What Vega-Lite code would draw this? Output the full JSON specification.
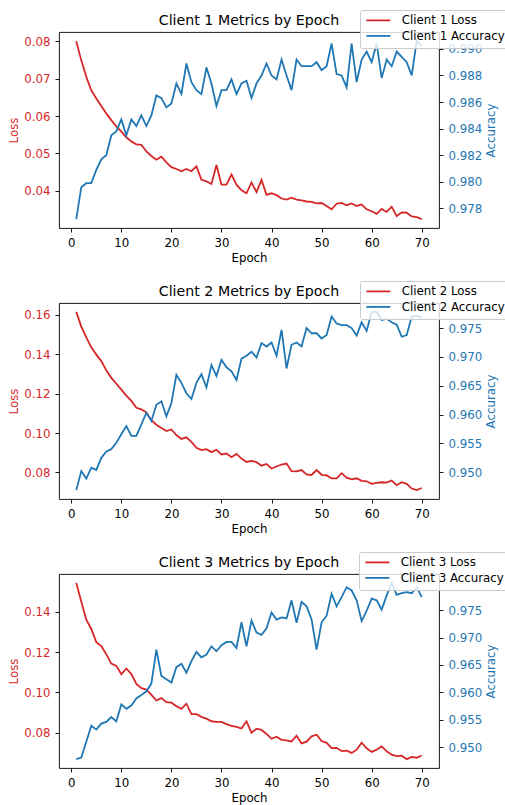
{
  "$schema": "https://vega.github.io/schema/vega-lite/v6.json",
  "padding": {"left": 8, "top": 9, "right": 0, "bottom": 0},
  "background": "white",
  "config": {
    "font": "DejaVu Sans",
    "view": {"stroke": "#000", "strokeWidth": 0.9},
    "axis": {"grid": false, "domain": false, "tickColor": "#000", "tickSize": 4, "tickWidth": 0.9, "labelPadding": 5, "labelFontSize": 11.8, "labelFont": "DejaVu Sans", "labelColor": "#000", "titleFont": "DejaVu Sans", "titleFontSize": 11.8, "titleFontWeight": "normal", "titleColor": "#000", "titlePadding": 4, "labelFlush": false, "labelOverlap": false},
    "title": {"font": "DejaVu Sans", "fontSize": 14.2, "fontWeight": "normal", "color": "#000", "anchor": "middle", "frame": "group", "offset": -19},
    "legend": {"orient": "none", "labelFont": "DejaVu Sans", "labelFontSize": 11.8, "labelColor": "#000", "symbolType": "M-3,0H3", "symbolSize": 64, "symbolStrokeWidth": 1.8, "symbolOffset": 8, "labelOffset": 17.5, "rowPadding": 2.5, "padding": 4.5, "fillColor": "rgba(255,255,255,0.8)", "strokeColor": "#cccccc", "cornerRadius": 2}
  },
  "datasets": {
    "metrics": [
      {"client":1,"epoch":1,"loss":0.0800,"accuracy":0.9772},
      {"client":1,"epoch":2,"loss":0.0749,"accuracy":0.9796},
      {"client":1,"epoch":3,"loss":0.0705,"accuracy":0.9799},
      {"client":1,"epoch":4,"loss":0.0669,"accuracy":0.9799},
      {"client":1,"epoch":5,"loss":0.0647,"accuracy":0.9809},
      {"client":1,"epoch":6,"loss":0.0627,"accuracy":0.9817},
      {"client":1,"epoch":7,"loss":0.0607,"accuracy":0.9820},
      {"client":1,"epoch":8,"loss":0.0589,"accuracy":0.9835},
      {"client":1,"epoch":9,"loss":0.0572,"accuracy":0.9838},
      {"client":1,"epoch":10,"loss":0.0558,"accuracy":0.9847},
      {"client":1,"epoch":11,"loss":0.0543,"accuracy":0.9835},
      {"client":1,"epoch":12,"loss":0.0532,"accuracy":0.9847},
      {"client":1,"epoch":13,"loss":0.0524,"accuracy":0.9842},
      {"client":1,"epoch":14,"loss":0.0523,"accuracy":0.9850},
      {"client":1,"epoch":15,"loss":0.0505,"accuracy":0.9842},
      {"client":1,"epoch":16,"loss":0.0493,"accuracy":0.9850},
      {"client":1,"epoch":17,"loss":0.0483,"accuracy":0.9865},
      {"client":1,"epoch":18,"loss":0.0491,"accuracy":0.9863},
      {"client":1,"epoch":19,"loss":0.0476,"accuracy":0.9856},
      {"client":1,"epoch":20,"loss":0.0463,"accuracy":0.9859},
      {"client":1,"epoch":21,"loss":0.0458,"accuracy":0.9874},
      {"client":1,"epoch":22,"loss":0.0452,"accuracy":0.9866},
      {"client":1,"epoch":23,"loss":0.0458,"accuracy":0.9889},
      {"client":1,"epoch":24,"loss":0.0452,"accuracy":0.9875},
      {"client":1,"epoch":25,"loss":0.0465,"accuracy":0.9869},
      {"client":1,"epoch":26,"loss":0.0429,"accuracy":0.9866},
      {"client":1,"epoch":27,"loss":0.0425,"accuracy":0.9886},
      {"client":1,"epoch":28,"loss":0.0418,"accuracy":0.9874},
      {"client":1,"epoch":29,"loss":0.0469,"accuracy":0.9857},
      {"client":1,"epoch":30,"loss":0.0416,"accuracy":0.9869},
      {"client":1,"epoch":31,"loss":0.0416,"accuracy":0.9869},
      {"client":1,"epoch":32,"loss":0.0443,"accuracy":0.9877},
      {"client":1,"epoch":33,"loss":0.0416,"accuracy":0.9866},
      {"client":1,"epoch":34,"loss":0.0401,"accuracy":0.9874},
      {"client":1,"epoch":35,"loss":0.0393,"accuracy":0.9876},
      {"client":1,"epoch":36,"loss":0.0422,"accuracy":0.9863},
      {"client":1,"epoch":37,"loss":0.0396,"accuracy":0.9874},
      {"client":1,"epoch":38,"loss":0.0429,"accuracy":0.9880},
      {"client":1,"epoch":39,"loss":0.0389,"accuracy":0.9889},
      {"client":1,"epoch":40,"loss":0.0393,"accuracy":0.9880},
      {"client":1,"epoch":41,"loss":0.0388,"accuracy":0.9877},
      {"client":1,"epoch":42,"loss":0.0379,"accuracy":0.9892},
      {"client":1,"epoch":43,"loss":0.0376,"accuracy":0.9880},
      {"client":1,"epoch":44,"loss":0.0381,"accuracy":0.9869},
      {"client":1,"epoch":45,"loss":0.0376,"accuracy":0.9892},
      {"client":1,"epoch":46,"loss":0.0374,"accuracy":0.9887},
      {"client":1,"epoch":47,"loss":0.0371,"accuracy":0.9887},
      {"client":1,"epoch":48,"loss":0.0370,"accuracy":0.9887},
      {"client":1,"epoch":49,"loss":0.0366,"accuracy":0.9890},
      {"client":1,"epoch":50,"loss":0.0367,"accuracy":0.9884},
      {"client":1,"epoch":51,"loss":0.0359,"accuracy":0.9887},
      {"client":1,"epoch":52,"loss":0.0350,"accuracy":0.9904},
      {"client":1,"epoch":53,"loss":0.0365,"accuracy":0.9881},
      {"client":1,"epoch":54,"loss":0.0367,"accuracy":0.9880},
      {"client":1,"epoch":55,"loss":0.0361,"accuracy":0.9871},
      {"client":1,"epoch":56,"loss":0.0366,"accuracy":0.9904},
      {"client":1,"epoch":57,"loss":0.0359,"accuracy":0.9875},
      {"client":1,"epoch":58,"loss":0.0363,"accuracy":0.9892},
      {"client":1,"epoch":59,"loss":0.0350,"accuracy":0.9898},
      {"client":1,"epoch":60,"loss":0.0345,"accuracy":0.9890},
      {"client":1,"epoch":61,"loss":0.0338,"accuracy":0.9904},
      {"client":1,"epoch":62,"loss":0.0351,"accuracy":0.9878},
      {"client":1,"epoch":63,"loss":0.0343,"accuracy":0.9892},
      {"client":1,"epoch":64,"loss":0.0357,"accuracy":0.9887},
      {"client":1,"epoch":65,"loss":0.0332,"accuracy":0.9898},
      {"client":1,"epoch":66,"loss":0.0342,"accuracy":0.9894},
      {"client":1,"epoch":67,"loss":0.0341,"accuracy":0.9890},
      {"client":1,"epoch":68,"loss":0.0331,"accuracy":0.9880},
      {"client":1,"epoch":69,"loss":0.0329,"accuracy":0.9906},
      {"client":1,"epoch":70,"loss":0.0324,"accuracy":0.9902},
      {"client":2,"epoch":1,"loss":0.1615,"accuracy":0.9469},
      {"client":2,"epoch":2,"loss":0.1540,"accuracy":0.9502},
      {"client":2,"epoch":3,"loss":0.1485,"accuracy":0.9489},
      {"client":2,"epoch":4,"loss":0.1435,"accuracy":0.9508},
      {"client":2,"epoch":5,"loss":0.1398,"accuracy":0.9504},
      {"client":2,"epoch":6,"loss":0.1365,"accuracy":0.9525},
      {"client":2,"epoch":7,"loss":0.1318,"accuracy":0.9536},
      {"client":2,"epoch":8,"loss":0.1280,"accuracy":0.9540},
      {"client":2,"epoch":9,"loss":0.1250,"accuracy":0.9551},
      {"client":2,"epoch":10,"loss":0.1220,"accuracy":0.9566},
      {"client":2,"epoch":11,"loss":0.1190,"accuracy":0.9580},
      {"client":2,"epoch":12,"loss":0.1163,"accuracy":0.9563},
      {"client":2,"epoch":13,"loss":0.1128,"accuracy":0.9563},
      {"client":2,"epoch":14,"loss":0.1120,"accuracy":0.9583},
      {"client":2,"epoch":15,"loss":0.1105,"accuracy":0.9603},
      {"client":2,"epoch":16,"loss":0.1065,"accuracy":0.9589},
      {"client":2,"epoch":17,"loss":0.1042,"accuracy":0.9617},
      {"client":2,"epoch":18,"loss":0.1025,"accuracy":0.9623},
      {"client":2,"epoch":19,"loss":0.1010,"accuracy":0.9597},
      {"client":2,"epoch":20,"loss":0.1018,"accuracy":0.9620},
      {"client":2,"epoch":21,"loss":0.0990,"accuracy":0.9669},
      {"client":2,"epoch":22,"loss":0.0970,"accuracy":0.9655},
      {"client":2,"epoch":23,"loss":0.0978,"accuracy":0.9637},
      {"client":2,"epoch":24,"loss":0.0955,"accuracy":0.9627},
      {"client":2,"epoch":25,"loss":0.0925,"accuracy":0.9655},
      {"client":2,"epoch":26,"loss":0.0913,"accuracy":0.9670},
      {"client":2,"epoch":27,"loss":0.0918,"accuracy":0.9647},
      {"client":2,"epoch":28,"loss":0.0903,"accuracy":0.9686},
      {"client":2,"epoch":29,"loss":0.0915,"accuracy":0.9667},
      {"client":2,"epoch":30,"loss":0.0891,"accuracy":0.9695},
      {"client":2,"epoch":31,"loss":0.0896,"accuracy":0.9682},
      {"client":2,"epoch":32,"loss":0.0877,"accuracy":0.9675},
      {"client":2,"epoch":33,"loss":0.0894,"accuracy":0.9660},
      {"client":2,"epoch":34,"loss":0.0870,"accuracy":0.9697},
      {"client":2,"epoch":35,"loss":0.0853,"accuracy":0.9702},
      {"client":2,"epoch":36,"loss":0.0858,"accuracy":0.9709},
      {"client":2,"epoch":37,"loss":0.0852,"accuracy":0.9699},
      {"client":2,"epoch":38,"loss":0.0834,"accuracy":0.9724},
      {"client":2,"epoch":39,"loss":0.0843,"accuracy":0.9718},
      {"client":2,"epoch":40,"loss":0.0820,"accuracy":0.9725},
      {"client":2,"epoch":41,"loss":0.0830,"accuracy":0.9702},
      {"client":2,"epoch":42,"loss":0.0840,"accuracy":0.9747},
      {"client":2,"epoch":43,"loss":0.0845,"accuracy":0.9680},
      {"client":2,"epoch":44,"loss":0.0806,"accuracy":0.9721},
      {"client":2,"epoch":45,"loss":0.0805,"accuracy":0.9725},
      {"client":2,"epoch":46,"loss":0.0812,"accuracy":0.9718},
      {"client":2,"epoch":47,"loss":0.0790,"accuracy":0.9750},
      {"client":2,"epoch":48,"loss":0.0787,"accuracy":0.9741},
      {"client":2,"epoch":49,"loss":0.0812,"accuracy":0.9741},
      {"client":2,"epoch":50,"loss":0.0788,"accuracy":0.9732},
      {"client":2,"epoch":51,"loss":0.0785,"accuracy":0.9738},
      {"client":2,"epoch":52,"loss":0.0770,"accuracy":0.9770},
      {"client":2,"epoch":53,"loss":0.0770,"accuracy":0.9758},
      {"client":2,"epoch":54,"loss":0.0796,"accuracy":0.9755},
      {"client":2,"epoch":55,"loss":0.0773,"accuracy":0.9755},
      {"client":2,"epoch":56,"loss":0.0765,"accuracy":0.9750},
      {"client":2,"epoch":57,"loss":0.0770,"accuracy":0.9737},
      {"client":2,"epoch":58,"loss":0.0757,"accuracy":0.9760},
      {"client":2,"epoch":59,"loss":0.0755,"accuracy":0.9745},
      {"client":2,"epoch":60,"loss":0.0742,"accuracy":0.9778},
      {"client":2,"epoch":61,"loss":0.0747,"accuracy":0.9778},
      {"client":2,"epoch":62,"loss":0.0750,"accuracy":0.9764},
      {"client":2,"epoch":63,"loss":0.0748,"accuracy":0.9766},
      {"client":2,"epoch":64,"loss":0.0759,"accuracy":0.9760},
      {"client":2,"epoch":65,"loss":0.0735,"accuracy":0.9756},
      {"client":2,"epoch":66,"loss":0.0750,"accuracy":0.9735},
      {"client":2,"epoch":67,"loss":0.0742,"accuracy":0.9738},
      {"client":2,"epoch":68,"loss":0.0718,"accuracy":0.9770},
      {"client":2,"epoch":69,"loss":0.0710,"accuracy":0.9771},
      {"client":2,"epoch":70,"loss":0.0721,"accuracy":0.9768},
      {"client":3,"epoch":1,"loss":0.1544,"accuracy":0.9478},
      {"client":3,"epoch":2,"loss":0.1451,"accuracy":0.9481},
      {"client":3,"epoch":3,"loss":0.1361,"accuracy":0.9510},
      {"client":3,"epoch":4,"loss":0.1315,"accuracy":0.9539},
      {"client":3,"epoch":5,"loss":0.1250,"accuracy":0.9532},
      {"client":3,"epoch":6,"loss":0.1230,"accuracy":0.9543},
      {"client":3,"epoch":7,"loss":0.1189,"accuracy":0.9546},
      {"client":3,"epoch":8,"loss":0.1143,"accuracy":0.9555},
      {"client":3,"epoch":9,"loss":0.1132,"accuracy":0.9547},
      {"client":3,"epoch":10,"loss":0.1091,"accuracy":0.9578},
      {"client":3,"epoch":11,"loss":0.1119,"accuracy":0.9570},
      {"client":3,"epoch":12,"loss":0.1091,"accuracy":0.9576},
      {"client":3,"epoch":13,"loss":0.1042,"accuracy":0.9589},
      {"client":3,"epoch":14,"loss":0.1021,"accuracy":0.9595},
      {"client":3,"epoch":15,"loss":0.1014,"accuracy":0.9602},
      {"client":3,"epoch":16,"loss":0.0988,"accuracy":0.9616},
      {"client":3,"epoch":17,"loss":0.0960,"accuracy":0.9678},
      {"client":3,"epoch":18,"loss":0.0972,"accuracy":0.9630},
      {"client":3,"epoch":19,"loss":0.0952,"accuracy":0.9624},
      {"client":3,"epoch":20,"loss":0.0949,"accuracy":0.9618},
      {"client":3,"epoch":21,"loss":0.0932,"accuracy":0.9646},
      {"client":3,"epoch":22,"loss":0.0919,"accuracy":0.9652},
      {"client":3,"epoch":23,"loss":0.0944,"accuracy":0.9636},
      {"client":3,"epoch":24,"loss":0.0892,"accuracy":0.9657},
      {"client":3,"epoch":25,"loss":0.0892,"accuracy":0.9674},
      {"client":3,"epoch":26,"loss":0.0879,"accuracy":0.9664},
      {"client":3,"epoch":27,"loss":0.0870,"accuracy":0.9669},
      {"client":3,"epoch":28,"loss":0.0857,"accuracy":0.9684},
      {"client":3,"epoch":29,"loss":0.0854,"accuracy":0.9675},
      {"client":3,"epoch":30,"loss":0.0854,"accuracy":0.9686},
      {"client":3,"epoch":31,"loss":0.0843,"accuracy":0.9692},
      {"client":3,"epoch":32,"loss":0.0834,"accuracy":0.9692},
      {"client":3,"epoch":33,"loss":0.0829,"accuracy":0.9681},
      {"client":3,"epoch":34,"loss":0.0821,"accuracy":0.9728},
      {"client":3,"epoch":35,"loss":0.0857,"accuracy":0.9684},
      {"client":3,"epoch":36,"loss":0.0800,"accuracy":0.9731},
      {"client":3,"epoch":37,"loss":0.0820,"accuracy":0.9709},
      {"client":3,"epoch":38,"loss":0.0814,"accuracy":0.9705},
      {"client":3,"epoch":39,"loss":0.0794,"accuracy":0.9717},
      {"client":3,"epoch":40,"loss":0.0770,"accuracy":0.9746},
      {"client":3,"epoch":41,"loss":0.0780,"accuracy":0.9733},
      {"client":3,"epoch":42,"loss":0.0765,"accuracy":0.9737},
      {"client":3,"epoch":43,"loss":0.0762,"accuracy":0.9735},
      {"client":3,"epoch":44,"loss":0.0757,"accuracy":0.9768},
      {"client":3,"epoch":45,"loss":0.0785,"accuracy":0.9727},
      {"client":3,"epoch":46,"loss":0.0747,"accuracy":0.9765},
      {"client":3,"epoch":47,"loss":0.0756,"accuracy":0.9757},
      {"client":3,"epoch":48,"loss":0.0782,"accuracy":0.9733},
      {"client":3,"epoch":49,"loss":0.0790,"accuracy":0.9678},
      {"client":3,"epoch":50,"loss":0.0759,"accuracy":0.9728},
      {"client":3,"epoch":51,"loss":0.0750,"accuracy":0.9740},
      {"client":3,"epoch":52,"loss":0.0724,"accuracy":0.9780},
      {"client":3,"epoch":53,"loss":0.0725,"accuracy":0.9757},
      {"client":3,"epoch":54,"loss":0.0709,"accuracy":0.9774},
      {"client":3,"epoch":55,"loss":0.0711,"accuracy":0.9792},
      {"client":3,"epoch":56,"loss":0.0700,"accuracy":0.9786},
      {"client":3,"epoch":57,"loss":0.0716,"accuracy":0.9768},
      {"client":3,"epoch":58,"loss":0.0751,"accuracy":0.9730},
      {"client":3,"epoch":59,"loss":0.0723,"accuracy":0.9749},
      {"client":3,"epoch":60,"loss":0.0705,"accuracy":0.9771},
      {"client":3,"epoch":61,"loss":0.0716,"accuracy":0.9768},
      {"client":3,"epoch":62,"loss":0.0732,"accuracy":0.9751},
      {"client":3,"epoch":63,"loss":0.0708,"accuracy":0.9777},
      {"client":3,"epoch":64,"loss":0.0691,"accuracy":0.9800},
      {"client":3,"epoch":65,"loss":0.0684,"accuracy":0.9778},
      {"client":3,"epoch":66,"loss":0.0686,"accuracy":0.9781},
      {"client":3,"epoch":67,"loss":0.0669,"accuracy":0.9783},
      {"client":3,"epoch":68,"loss":0.0680,"accuracy":0.9781},
      {"client":3,"epoch":69,"loss":0.0676,"accuracy":0.9792},
      {"client":3,"epoch":70,"loss":0.0687,"accuracy":0.9774}
    ]
  },
  "spacing": 14,
  "resolve": {"scale": {"color": "independent"}, "legend": {"color": "independent"}},
  "vconcat": [
    {
      "title": "Client 1 Metrics by Epoch",
      "width": 380, "height": 196,
      "data": {"name": "metrics"},
      "transform": [{"filter": "datum.client == 1"}],
      "encoding": {"x": {"field": "epoch", "type": "quantitative", "scale": {"domain": [-2.45, 73.45], "nice": false}, "axis": {"title": "Epoch", "values": [0,10,20,30,40,50,60,70]}}},
      "layer": [
        {"mark": {"type": "line", "strokeWidth": 1.8},
         "encoding": {
           "y": {"field": "loss", "type": "quantitative", "scale": {"domain": [0.0300, 0.0825], "nice": false, "zero": false}, "axis": {"title": "Loss", "orient": "left", "values": [0.04,0.05,0.06,0.07,0.08], "format": ".2f", "labelColor": "#d62728", "titleColor": "#d62728"}},
           "color": {"datum": "Client 1 Loss", "type": "nominal", "scale": {"domain": ["Client 1 Loss", "Client 1 Accuracy"], "range": ["#d62728", "#1f77b4"]}, "legend": {"title": null, "legendX": 301, "legendY": -22}}
         }},
        {"mark": {"type": "line", "strokeWidth": 1.8},
         "encoding": {
           "y": {"field": "accuracy", "type": "quantitative", "scale": {"domain": [0.97653, 0.99127], "nice": false, "zero": false}, "axis": {"title": "Accuracy", "orient": "right", "titleAngle": -90, "titleBaseline": "top", "values": [0.978,0.980,0.982,0.984,0.986,0.988,0.990], "format": ".3f", "labelColor": "#1f77b4", "titleColor": "#1f77b4"}},
           "color": {"datum": "Client 1 Accuracy", "type": "nominal"}
         }}
      ],
      "resolve": {"scale": {"y": "independent"}}
    },
    {
      "title": "Client 2 Metrics by Epoch",
      "width": 380, "height": 196,
      "data": {"name": "metrics"},
      "transform": [{"filter": "datum.client == 2"}],
      "encoding": {"x": {"field": "epoch", "type": "quantitative", "scale": {"domain": [-2.45, 73.45], "nice": false}, "axis": {"title": "Epoch", "values": [0,10,20,30,40,50,60,70]}}},
      "layer": [
        {"mark": {"type": "line", "strokeWidth": 1.8},
         "encoding": {
           "y": {"field": "loss", "type": "quantitative", "scale": {"domain": [0.0665, 0.1660], "nice": false, "zero": false}, "axis": {"title": "Loss", "orient": "left", "values": [0.08,0.10,0.12,0.14,0.16], "format": ".2f", "labelColor": "#d62728", "titleColor": "#d62728"}},
           "color": {"datum": "Client 2 Loss", "type": "nominal", "scale": {"domain": ["Client 2 Loss", "Client 2 Accuracy"], "range": ["#d62728", "#1f77b4"]}, "legend": {"title": null, "legendX": 301, "legendY": -22}}
         }},
        {"mark": {"type": "line", "strokeWidth": 1.8},
         "encoding": {
           "y": {"field": "accuracy", "type": "quantitative", "scale": {"domain": [0.94536, 0.97935], "nice": false, "zero": false}, "axis": {"title": "Accuracy", "orient": "right", "titleAngle": -90, "titleBaseline": "top", "values": [0.950,0.955,0.960,0.965,0.970,0.975], "format": ".3f", "labelColor": "#1f77b4", "titleColor": "#1f77b4"}},
           "color": {"datum": "Client 2 Accuracy", "type": "nominal"}
         }}
      ],
      "resolve": {"scale": {"y": "independent"}}
    },
    {
      "title": "Client 3 Metrics by Epoch",
      "width": 380, "height": 194,
      "data": {"name": "metrics"},
      "transform": [{"filter": "datum.client == 3"}],
      "encoding": {"x": {"field": "epoch", "type": "quantitative", "scale": {"domain": [-2.45, 73.45], "nice": false}, "axis": {"title": "Epoch", "values": [0,10,20,30,40,50,60,70]}}},
      "layer": [
        {"mark": {"type": "line", "strokeWidth": 1.8},
         "encoding": {
           "y": {"field": "loss", "type": "quantitative", "scale": {"domain": [0.0625, 0.1588], "nice": false, "zero": false}, "axis": {"title": "Loss", "orient": "left", "values": [0.08,0.10,0.12,0.14], "format": ".2f", "labelColor": "#d62728", "titleColor": "#d62728"}},
           "color": {"datum": "Client 3 Loss", "type": "nominal", "scale": {"domain": ["Client 3 Loss", "Client 3 Accuracy"], "range": ["#d62728", "#1f77b4"]}, "legend": {"title": null, "legendX": 300, "legendY": -22}}
         }},
        {"mark": {"type": "line", "strokeWidth": 1.8},
         "encoding": {
           "y": {"field": "accuracy", "type": "quantitative", "scale": {"domain": [0.94619, 0.98161], "nice": false, "zero": false}, "axis": {"title": "Accuracy", "orient": "right", "titleAngle": -90, "titleBaseline": "top", "values": [0.950,0.955,0.960,0.965,0.970,0.975], "format": ".3f", "labelColor": "#1f77b4", "titleColor": "#1f77b4"}},
           "color": {"datum": "Client 3 Accuracy", "type": "nominal"}
         }}
      ],
      "resolve": {"scale": {"y": "independent"}}
    }
  ]
}
